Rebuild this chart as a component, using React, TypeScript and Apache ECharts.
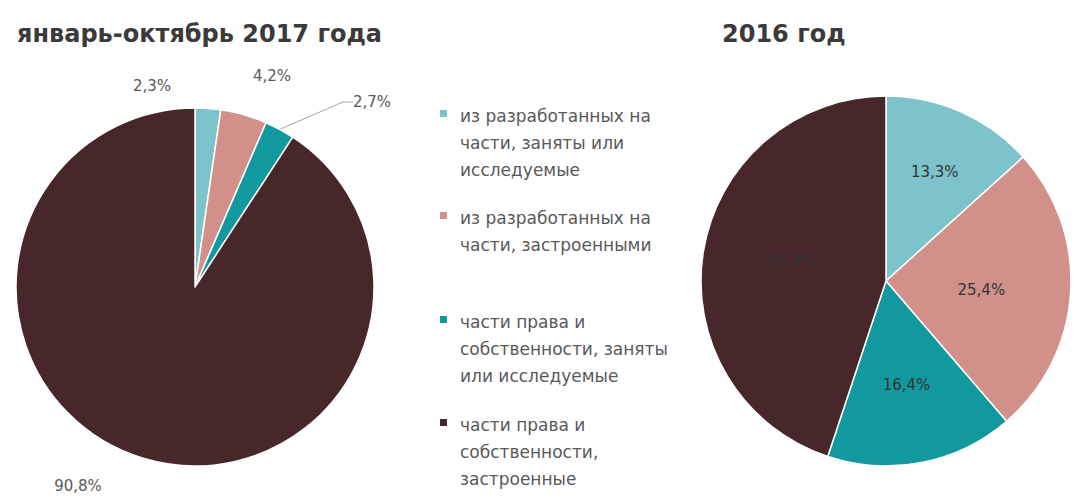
import React, { useEffect, useRef } from "react";
import * as echarts from "echarts";

const categories = [
  "из разработанных на\nчасти, заняты или\nисследуемые",
  "из разработанных на\nчасти, застроенными",
  "части права и\nсобственности, заняты\nили исследуемые",
  "части права и\nсобственности,\nзастроенные",
];
const colors = ["#7cc3cb", "#d2908a", "#12989f", "#472729"];
const values2017 = [2.3, 4.2, 2.7, 90.8];
const values2016 = [13.3, 25.4, 16.4, 44.9];
const titles = ["январь-октябрь 2017 года", "2016 год"];

const fmt = (v: number) => v.toFixed(1).replace(".", ",") + "%";

// label placement for the outer labels of the left pie
const leftLabelPos = [
  [152, 86],
  [272, 76],
  [372, 102],
  [78, 486],
];
const leftLeaderShown = [false, false, true, false];
// small nudges for the inner labels of the right pie
const rightLabelShift = [
  [10, -22],
  [0, 3],
  [2, 10],
  [0, -6],
];

export default function App() {
  const ref = useRef<HTMLDivElement>(null);
  useEffect(() => {
    document.body.style.margin = "0";
    const chart = echarts.init(ref.current!, null, { renderer: "svg" });
    const legendTops = [102, 204, 308, 411];
    const graphic: any[] = [];
    categories.forEach((c, i) => {
      graphic.push({
        type: "rect",
        left: 440,
        top: legendTops[i] + 8,
        shape: { width: 7, height: 7 },
        style: { fill: colors[i] },
      });
      graphic.push({
        type: "text",
        left: 460,
        top: legendTops[i],
        style: {
          text: c,
          fill: "#595959",
          font: "17px 'DejaVu Sans'",
          lineHeight: 27,
        },
      });
    });
    chart.setOption({
      animation: false,
      color: colors,
      title: [
        {
          text: titles[0],
          left: 12,
          top: 17,
          textStyle: { fontFamily: "DejaVu Sans", fontWeight: "bold", fontSize: 24, color: "#3a3a3a" },
        },
        {
          text: titles[1],
          left: 717,
          top: 17,
          textStyle: { fontFamily: "DejaVu Sans", fontWeight: "bold", fontSize: 24, color: "#3a3a3a" },
        },
      ],
      graphic,
      series: [
        {
          type: "pie",
          center: [195, 287],
          radius: [0, 179],
          startAngle: 90,
          itemStyle: { borderColor: "#fff", borderWidth: 1.5 },
          label: {
            show: true,
            position: "outside",
            formatter: (p: any) => fmt(p.value),
            color: "#595959",
            fontFamily: "DejaVu Sans",
            fontSize: 15,
          },
          labelLayout: (p: any) => {
            const pos = leftLabelPos[p.dataIndex];
            return { x: pos[0], y: pos[1], align: "center", verticalAlign: "middle" };
          },
          labelLine: { show: true, length: 15, length2: 10, lineStyle: { color: "#a6a6a6", width: 1 } },
          data: values2017.map((v, i) => ({
            name: categories[i],
            value: v,
            labelLine: { show: leftLeaderShown[i] },
          })),
        },
        {
          type: "pie",
          center: [886, 281],
          radius: [0, 185],
          startAngle: 90,
          itemStyle: { borderColor: "#fff", borderWidth: 1.5 },
          label: {
            show: true,
            position: "inside",
            formatter: (p: any) => fmt(p.value),
            color: "#333333",
            fontFamily: "DejaVu Sans",
            fontSize: 15,
          },
          labelLayout: (p: any) => {
            const s = rightLabelShift[p.dataIndex];
            return { dx: s[0], dy: s[1] };
          },
          labelLine: { show: false },
          data: values2016.map((v, i) => ({ name: categories[i], value: v })),
        },
      ],
    });
    return () => chart.dispose();
  }, []);
  return <div ref={ref} style={{ width: 1076, height: 501 }} />;
}
